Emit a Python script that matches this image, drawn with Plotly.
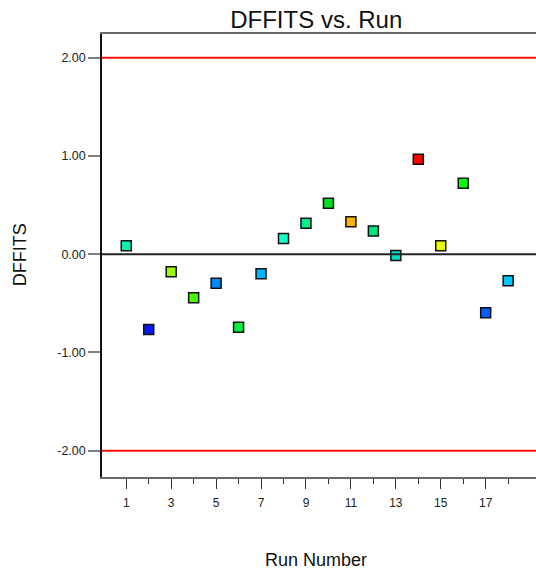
import plotly.graph_objects as go

# Run order and DFFITS value for each run
runs = list(range(1, 19))
dffits = [0.085, -0.766, -0.180, -0.444, -0.295, -0.743, -0.200, 0.160, 0.315,
          0.519, 0.329, 0.237, -0.013, 0.966, 0.085, 0.722, -0.597, -0.271]
point_colors = ["#10F0B0", "#0818F0", "#99FF00", "#44FF00", "#0088FF", "#00F040",
                "#00B4FF", "#10FFC8", "#00F090", "#00DD22", "#FFB000", "#00E67A",
                "#00DDC0", "#FF0000", "#E8FF00", "#00FF00", "#0060FF", "#00C8FF"]

limit = 2.0
y_ticks = [-2, -1, 0, 1, 2]
y_tick_labels = ["-2.00", "-1.00", "0.00", "1.00", "2.00"]
x_major = [1, 3, 5, 7, 9, 11, 13, 15, 17]
x_minor = [2, 4, 6, 8, 10, 12, 14, 16, 18]

FONT = "Liberation Sans, Arial, sans-serif"

fig = go.Figure()
fig.add_trace(go.Scatter(
    x=runs, y=dffits, mode="markers",
    marker=dict(symbol="square", size=10, color=point_colors,
                line=dict(color="#111111", width=1.5)),
    showlegend=False, hoverinfo="x+y",
))

# Limits at +/-2 and the zero reference
for val, col in [(limit, "#FF1010"), (-limit, "#FF1010"), (0, "#222222")]:
    fig.add_shape(type="line", xref="paper", x0=0, x1=1, yref="y", y0=val, y1=val,
                  line=dict(color=col, width=2), layer="above")

fig.update_layout(
    width=536, height=572,
    margin=dict(l=102, r=0, t=34, b=95),
    paper_bgcolor="white", plot_bgcolor="white",
    font=dict(family=FONT, color="#222222"),
    title=dict(text="DFFITS vs. Run", font=dict(size=24, color="#111111", family=FONT),
               xref="container", x=0.59, xanchor="center",
               yref="container", y=1 - 20 / 572, yanchor="middle"),
    xaxis=dict(range=[-0.08, 19.24], tickvals=x_major, ticktext=[str(v) for v in x_major],
               ticks="outside", ticklen=10, tickwidth=1.2, tickcolor="#333333",
               ticklabelstandoff=4,
               minor=dict(tickvals=x_minor, ticks="outside", ticklen=5, tickwidth=1.2,
                          tickcolor="#333333"),
               showline=True, linecolor="#6a6a6a", linewidth=2, mirror=True,
               showgrid=False, zeroline=False,
               tickfont=dict(size=12, family=FONT, color="#222222")),
    yaxis=dict(range=[-2.268, 2.241], tickvals=y_ticks, ticktext=y_tick_labels,
               ticks="outside", ticklen=12, tickwidth=2, tickcolor="#808080",
               showline=True, linecolor="#111111", linewidth=1.5,
               showgrid=False, zeroline=False,
               tickfont=dict(size=12.5, family=FONT, color="#222222")),
    annotations=[
        dict(text="Run Number", xref="paper", yref="paper", x=0.494, y=-0.187,
             xanchor="center", yanchor="middle", showarrow=False,
             font=dict(size=18, family=FONT, color="#111111")),
        dict(text="DFFITS", xref="paper", yref="paper", x=-0.189, y=0.503,
             xanchor="center", yanchor="middle", textangle=-90, showarrow=False,
             font=dict(size=18, family=FONT, color="#111111")),
    ],
)

fig.write_html("out.html")
